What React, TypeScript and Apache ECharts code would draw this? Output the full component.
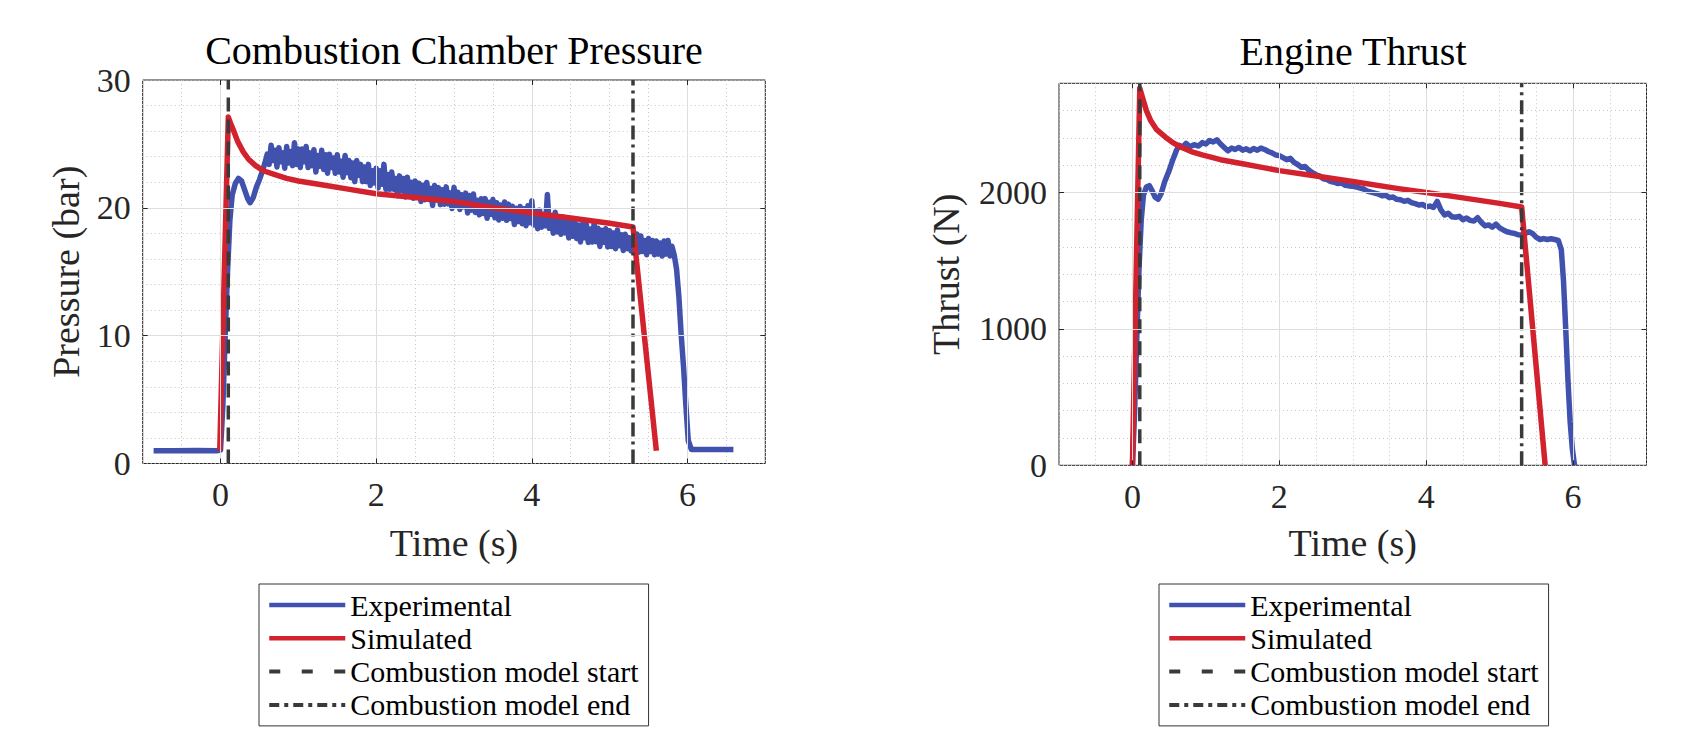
import React, { useEffect, useRef } from "react";
import * as echarts from "echarts";

const FONT = '"Liberation Serif", "Times New Roman", serif';

const seriesNames = ["Experimental", "Simulated", "Combustion model start", "Combustion model end"];
const chartTitles = ["Combustion Chamber Pressure", "Engine Thrust"];
const yAxisNames = ["Pressure (bar)", "Thrust (N)"];
const xAxisName = "Time (s)";

const xRange = [-1, 7];
const xMajorTicks = [0, 2, 4, 6];
const pressureRange = [0, 30];
const pressureMajorTicks = [0, 10, 20, 30];
const thrustRange = [0, 2800];
const thrustMajorTicks = [0, 1000, 2000];

const combustionStart = 0.1;
const combustionEnd = 5.3;

const pressureExperimental: [number, number][] = [
  [-0.86, 1.0], [-0.6, 1.0], [-0.3, 1.02], [-0.05, 1.0], [0.0, 1.05], [0.03, 4.5], [0.06, 10.0], [0.09, 15.0],
  [0.12, 19.0], [0.15, 21.0], [0.19, 21.9], [0.23, 22.3], [0.27, 22.1], [0.31, 21.4], [0.35, 20.7], [0.38, 20.4],
  [0.42, 20.8], [0.46, 21.6], [0.5, 22.2], [0.54, 22.9], [0.57, 23.5],
  [0.600, 24.2], [0.625, 23.4], [0.650, 24.9], [0.675, 23.7], [0.700, 24.5], [0.725, 23.2], [0.750, 24.7], [0.775, 23.6],
  [0.800, 24.3], [0.825, 23.1], [0.850, 24.8], [0.875, 23.5], [0.900, 24.4], [0.925, 23.3], [0.950, 25.1], [0.975, 23.4],
  [1.000, 24.6], [1.025, 23.15], [1.050, 24.6], [1.075, 23.6], [1.100, 24.8], [1.125, 23.15], [1.150, 24.3], [1.175, 23.3],
  [1.200, 24.55], [1.225, 22.8], [1.250, 24.1], [1.275, 23.25], [1.300, 24.5], [1.325, 23.0], [1.350, 24.15], [1.375, 22.7],
  [1.400, 24.2], [1.425, 23.15], [1.450, 23.9], [1.475, 22.7], [1.500, 24.15], [1.525, 22.8], [1.550, 23.65], [1.575, 22.4],
  [1.600, 24.1], [1.625, 22.75], [1.650, 23.7], [1.675, 22.35], [1.700, 23.5], [1.725, 22.05], [1.750, 23.7], [1.775, 22.55],
  [1.800, 23.4], [1.825, 22.05], [1.850, 23.2], [1.875, 22.05], [1.900, 23.4], [1.925, 21.75], [1.950, 22.9], [1.975, 21.95],
  [2.000, 23.1], [2.025, 21.55], [2.050, 22.9], [2.075, 21.85], [2.100, 23.4], [2.125, 21.45], [2.150, 22.6], [2.175, 21.45],
  [2.200, 22.8], [2.225, 21.45], [2.250, 22.3], [2.275, 20.95], [2.300, 22.5], [2.325, 21.35], [2.350, 22.3], [2.375, 20.85],
  [2.400, 22.4], [2.425, 20.95], [2.450, 22.0], [2.475, 20.75], [2.500, 22.1], [2.525, 20.97], [2.550, 21.93], [2.575, 20.5],
  [2.600, 21.76], [2.625, 20.63], [2.650, 21.99], [2.675, 20.66], [2.700, 21.52], [2.725, 20.19], [2.750, 21.75], [2.775, 20.62],
  [2.800, 21.58], [2.825, 20.25], [2.850, 21.41], [2.875, 20.28], [2.900, 21.64], [2.925, 20.31], [2.950, 21.17], [2.975, 19.94],
  [3.000, 21.6], [3.025, 20.16], [3.050, 21.22], [3.075, 19.87], [3.100, 21.03], [3.125, 20.09], [3.150, 21.15], [3.175, 19.6],
  [3.200, 20.96], [3.225, 19.82], [3.250, 21.08], [3.275, 19.63], [3.300, 20.59], [3.325, 19.45], [3.350, 20.71], [3.375, 19.56],
  [3.400, 20.72], [3.425, 19.18], [3.450, 20.44], [3.475, 19.49], [3.500, 20.65], [3.525, 19.22], [3.550, 20.39], [3.575, 19.05],
  [3.600, 20.22], [3.625, 19.19], [3.650, 20.46], [3.675, 19.02], [3.700, 20.29], [3.725, 19.16], [3.750, 20.13], [3.775, 18.69],
  [3.800, 19.96], [3.825, 18.93], [3.850, 20.1], [3.875, 18.76], [3.900, 19.93], [3.925, 18.6], [3.950, 20.17], [3.975, 18.83],
  [4.000, 20.55], [4.025, 18.66], [4.050, 19.71], [4.075, 18.37], [4.100, 19.82], [4.125, 18.48], [4.150, 19.43], [4.175, 18.59],
  [4.200, 21.04], [4.225, 18.4], [4.250, 19.35], [4.275, 18.01], [4.300, 19.66], [4.325, 18.12], [4.350, 19.17], [4.375, 17.93],
  [4.400, 19.28], [4.425, 18.04], [4.450, 18.89], [4.475, 17.65], [4.500, 19.1], [4.525, 17.77], [4.550, 18.93], [4.575, 17.6],
  [4.600, 18.66], [4.625, 17.33], [4.650, 18.69], [4.675, 17.66], [4.700, 18.72], [4.725, 17.29], [4.750, 18.35], [4.775, 17.32],
  [4.800, 18.78], [4.825, 17.35], [4.850, 18.41], [4.875, 16.98], [4.900, 18.24], [4.925, 17.31], [4.950, 18.37], [4.975, 16.94],
  [5.000, 18.2], [5.025, 16.97], [5.050, 18.03], [5.075, 16.8], [5.100, 18.27], [5.125, 17.03], [5.150, 17.9], [5.175, 16.67],
  [5.200, 17.93], [5.225, 16.8], [5.250, 17.67], [5.275, 16.63], [5.300, 17.7], [5.325, 16.68], [5.350, 17.95], [5.375, 16.53],
  [5.400, 17.8], [5.425, 16.58], [5.450, 17.45], [5.475, 16.33], [5.500, 17.6], [5.525, 16.58], [5.550, 17.45], [5.575, 16.33],
  [5.600, 17.4], [5.625, 16.38], [5.650, 17.25], [5.675, 16.23], [5.700, 17.4], [5.725, 16.38], [5.750, 17.45], [5.775, 16.23],
  [5.800, 17.0], [5.83, 16.3], [5.86, 15.2], [5.89, 13.0], [5.92, 10.0], [5.95, 7.5], [5.98, 4.5], [6.01, 1.8],
  [6.05, 1.1], [6.3, 1.1], [6.59, 1.1],
];

const pressureSimulated: [number, number][] = [
  [-0.01, 1.0], [0.1, 27.1], [0.13, 26.6], [0.17, 26.0], [0.22, 25.2], [0.29, 24.4], [0.36, 23.8], [0.45, 23.3],
  [0.55, 22.9], [0.7, 22.6], [0.85, 22.3], [1.0, 22.1], [1.3, 21.8], [1.6, 21.5], [2.0, 21.1], [2.5, 20.8],
  [3.0, 20.5], [3.5, 20.0], [4.0, 19.6], [4.5, 19.2], [5.0, 18.8], [5.3, 18.5], [5.6, 1.0],
];

const thrustExperimental: [number, number][] = [
  [0.0, 0], [0.03, 400], [0.06, 950], [0.09, 1450], [0.12, 1800], [0.15, 1980], [0.19, 2040], [0.23, 2050],
  [0.27, 2010], [0.31, 1965], [0.35, 1950], [0.39, 1990], [0.44, 2080], [0.5, 2160], [0.55, 2240], [0.6, 2310],
  [0.64, 2345], [0.68, 2330], [0.73, 2360], [0.78, 2335], [0.84, 2350], [0.9, 2340], [0.95, 2365], [1.0, 2355],
  [1.05, 2380], [1.1, 2370], [1.15, 2385], [1.2, 2355], [1.25, 2330], [1.3, 2305], [1.35, 2325], [1.4, 2315],
  [1.45, 2330], [1.5, 2310], [1.55, 2320], [1.6, 2305], [1.65, 2322], [1.7, 2310], [1.75, 2325], [1.8, 2315],
  [1.85, 2300], [1.9, 2290], [1.95, 2275], [2.0, 2270], [2.05, 2255], [2.1, 2240], [2.15, 2250], [2.2, 2220],
  [2.25, 2205], [2.3, 2185], [2.35, 2190], [2.4, 2165], [2.45, 2145], [2.5, 2130], [2.55, 2120], [2.6, 2100],
  [2.65, 2095], [2.7, 2080], [2.75, 2075], [2.8, 2065], [2.85, 2070], [2.9, 2052], [2.95, 2048], [3.0, 2045],
  [3.05, 2040], [3.1, 2032], [3.15, 2025], [3.2, 2010], [3.25, 2002], [3.3, 1995], [3.35, 1988], [3.4, 1975],
  [3.45, 1980], [3.5, 1962], [3.55, 1966], [3.6, 1950], [3.65, 1946], [3.7, 1935], [3.75, 1942], [3.8, 1925],
  [3.85, 1918], [3.9, 1908], [3.95, 1912], [4.0, 1895], [4.05, 1900], [4.1, 1890], [4.15, 1935], [4.2, 1872],
  [4.25, 1835], [4.3, 1848], [4.35, 1822], [4.4, 1818], [4.45, 1825], [4.5, 1800], [4.55, 1812], [4.6, 1795],
  [4.65, 1790], [4.7, 1815], [4.75, 1782], [4.8, 1755], [4.85, 1762], [4.9, 1745], [4.95, 1768], [5.0, 1740],
  [5.05, 1725], [5.1, 1712], [5.15, 1705], [5.2, 1700], [5.25, 1690], [5.3, 1688], [5.35, 1700], [5.4, 1712],
  [5.45, 1698], [5.5, 1670], [5.55, 1655], [5.6, 1662], [5.65, 1655], [5.7, 1660], [5.75, 1655], [5.8, 1648],
  [5.84, 1580], [5.87, 1350], [5.9, 1000], [5.93, 630], [5.96, 320], [5.99, 120], [6.02, 0],
];

const thrustSimulated: [number, number][] = [
  [0.0, 0], [0.1, 2764], [0.14, 2690], [0.19, 2600], [0.25, 2525], [0.33, 2460], [0.45, 2405], [0.55, 2365],
  [0.65, 2335], [0.8, 2300], [0.95, 2275], [1.2, 2240], [1.5, 2210], [1.8, 2180], [2.0, 2160], [2.5, 2120],
  [3.0, 2080], [3.6, 2030], [4.0, 2000], [4.5, 1960], [5.0, 1920], [5.3, 1893], [5.62, 0],
];

const BLUE = "#4152ae";
const RED = "#d2222e";
const DARK = "#3a3a3a";
const AXIS = "#262626";

const isMajor = (v: number, ticks: number[]) => ticks.some((t) => Math.abs(t - v) < 1e-9);

function frameLines(yTicks: number[], yR: number[], tickX: number, tickY: number) {
  const grid: any[] = [];
  const ticks: any[] = [];
  const gridStyle = { color: "#dedede", type: "solid", width: 1 };
  const tickStyle = { color: AXIS, type: "solid", width: 1 };
  xMajorTicks.forEach((v) => {
    grid.push({ xAxis: v, lineStyle: gridStyle });
    ticks.push([
      { coord: [v, yR[0]], lineStyle: tickStyle },
      { coord: [v, yR[0] + tickY], lineStyle: tickStyle },
    ]);
    ticks.push([
      { coord: [v, yR[1]], lineStyle: tickStyle },
      { coord: [v, yR[1] - tickY], lineStyle: tickStyle },
    ]);
  });
  yTicks
    .filter((v) => v > yR[0] && v < yR[1])
    .forEach((v) => {
      grid.push({ yAxis: v, lineStyle: gridStyle });
      ticks.push([
        { coord: [xRange[0], v], lineStyle: tickStyle },
        { coord: [xRange[0] + tickX, v], lineStyle: tickStyle },
      ]);
      ticks.push([
        { coord: [xRange[1], v], lineStyle: tickStyle },
        { coord: [xRange[1] - tickX, v], lineStyle: tickStyle },
      ]);
    });
  return [...grid, ...ticks];
}

function buildSeries(
  gi: number,
  exp: [number, number][],
  sim: [number, number][],
  yR: number[],
  yTicks: number[],
  tickX: number,
  tickY: number
) {
  const common = { xAxisIndex: gi, yAxisIndex: gi, type: "line", symbol: "none", showSymbol: false, z: 3 };
  return [
    {
      type: "line",
      xAxisIndex: gi,
      yAxisIndex: gi,
      data: [],
      z: 1,
      silent: true,
      markLine: {
        silent: true,
        symbol: ["none", "none"],
        label: { show: false },
        emphasis: { disabled: true },
        animation: false,
        data: frameLines(yTicks, yR, tickX, tickY),
      },
    },
    { ...common, name: seriesNames[0], data: exp, lineStyle: { color: BLUE, width: 5.5, join: "round" }, itemStyle: { color: BLUE } },
    { ...common, name: seriesNames[1], data: sim, lineStyle: { color: RED, width: 5.5, join: "round" }, itemStyle: { color: RED } },
    {
      ...common,
      name: seriesNames[2],
      data: [[combustionStart, yR[0]], [combustionStart, yR[1]]],
      lineStyle: { color: DARK, width: 3.5, type: [14, 8] },
      itemStyle: { color: DARK },
      z: 4,
    },
    {
      ...common,
      name: seriesNames[3],
      data: [[combustionEnd, yR[0]], [combustionEnd, yR[1]]],
      lineStyle: { color: DARK, width: 3.5, type: [14, 5, 3, 5] },
      itemStyle: { color: DARK },
      z: 4,
    },
  ];
}

function xAxisFor(gi: number, gap: number) {
  return {
    gridIndex: gi,
    type: "value",
    min: xRange[0],
    max: xRange[1],
    interval: 0.5,
    axisLine: { show: false },
    axisTick: { show: false },
    axisLabel: {
      margin: 14,
      fontFamily: FONT,
      fontSize: 34,
      color: AXIS,
      formatter: (v: number) => (isMajor(v, xMajorTicks) ? String(v) : ""),
    },
    splitLine: { show: true, lineStyle: { color: "#c6c6c6", type: [1, 3], width: 1 } },
    name: xAxisName,
    nameLocation: "middle",
    nameGap: gap,
    nameTextStyle: { fontFamily: FONT, fontSize: 38, color: AXIS },
  };
}

function yAxisFor(gi: number, range: number[], interval: number, ticks: number[], name: string, gap: number) {
  return {
    gridIndex: gi,
    type: "value",
    min: range[0],
    max: range[1],
    interval,
    axisLine: { show: false },
    axisTick: { show: false },
    axisLabel: {
      margin: 12,
      fontFamily: FONT,
      fontSize: 34,
      color: AXIS,
      formatter: (v: number) => (isMajor(v, ticks) ? String(v) : ""),
    },
    splitLine: { show: true, lineStyle: { color: "#c6c6c6", type: [1, 3], width: 1 } },
    name,
    nameLocation: "middle",
    nameGap: gap,
    nameTextStyle: { fontFamily: FONT, fontSize: 38, color: AXIS },
  };
}

function legendFor(left: number) {
  return {
    orient: "vertical",
    left,
    top: 584,
    itemWidth: 76,
    itemHeight: 14,
    itemGap: 3.3,
    padding: [6, 10, 6, 8],
    borderColor: "#333",
    borderWidth: 1,
    borderRadius: 0,
    backgroundColor: "#fff",
    selectedMode: false,
    textStyle: { fontFamily: FONT, fontSize: 30, lineHeight: 30, color: "#000" },
    lineStyle: { width: 4.5 },
    itemStyle: { opacity: 0 },
    data: [
      { name: seriesNames[0] },
      { name: seriesNames[1] },
      { name: seriesNames[2], lineStyle: { type: [11, 21.5], width: 4 } },
      { name: seriesNames[3], lineStyle: { type: [10, 5, 4, 5], width: 4 } },
    ],
  };
}

const grids = [
  { left: 142.7, top: 80, width: 622.6, height: 383.5 },
  { left: 1059, top: 83.3, width: 587.5, height: 382 },
];

const option: any = {
  animation: false,
  backgroundColor: "#fff",
  title: [
    {
      text: chartTitles[0],
      left: 454,
      top: 30,
      textAlign: "center",
      padding: 0,
      textStyle: { fontFamily: FONT, fontSize: 40, fontWeight: "normal", color: "#000" },
    },
    {
      text: chartTitles[1],
      left: 1353,
      top: 31,
      textAlign: "center",
      padding: 0,
      textStyle: { fontFamily: FONT, fontSize: 40, fontWeight: "normal", color: "#000" },
    },
  ],
  grid: grids.map((g) => ({ ...g, show: true, borderColor: AXIS, borderWidth: 1, backgroundColor: "#fff", containLabel: false })),
  xAxis: [xAxisFor(0, 60), xAxisFor(1, 59)],
  yAxis: [
    yAxisFor(0, pressureRange, 2, pressureMajorTicks, yAxisNames[0], 58),
    yAxisFor(1, thrustRange, 200, thrustMajorTicks, yAxisNames[1], 94),
  ],
  legend: [legendFor(259), legendFor(1159)],
  series: [
    ...buildSeries(0, pressureExperimental, pressureSimulated, pressureRange, pressureMajorTicks, 0.064, 0.39),
    ...buildSeries(1, thrustExperimental, thrustSimulated, thrustRange, thrustMajorTicks, 0.068, 36.6),
  ],
};

export default function App() {
  const ref = useRef<HTMLDivElement>(null);
  useEffect(() => {
    if (!ref.current) return;
    const chart = echarts.init(ref.current, undefined, { renderer: "svg", width: 1703, height: 739 });
    chart.setOption(option);
    return () => chart.dispose();
  }, []);
  return (
    <div
      ref={ref}
      style={{ position: "absolute", left: 0, top: 0, width: 1703, height: 739, background: "#fff" }}
    />
  );
}
